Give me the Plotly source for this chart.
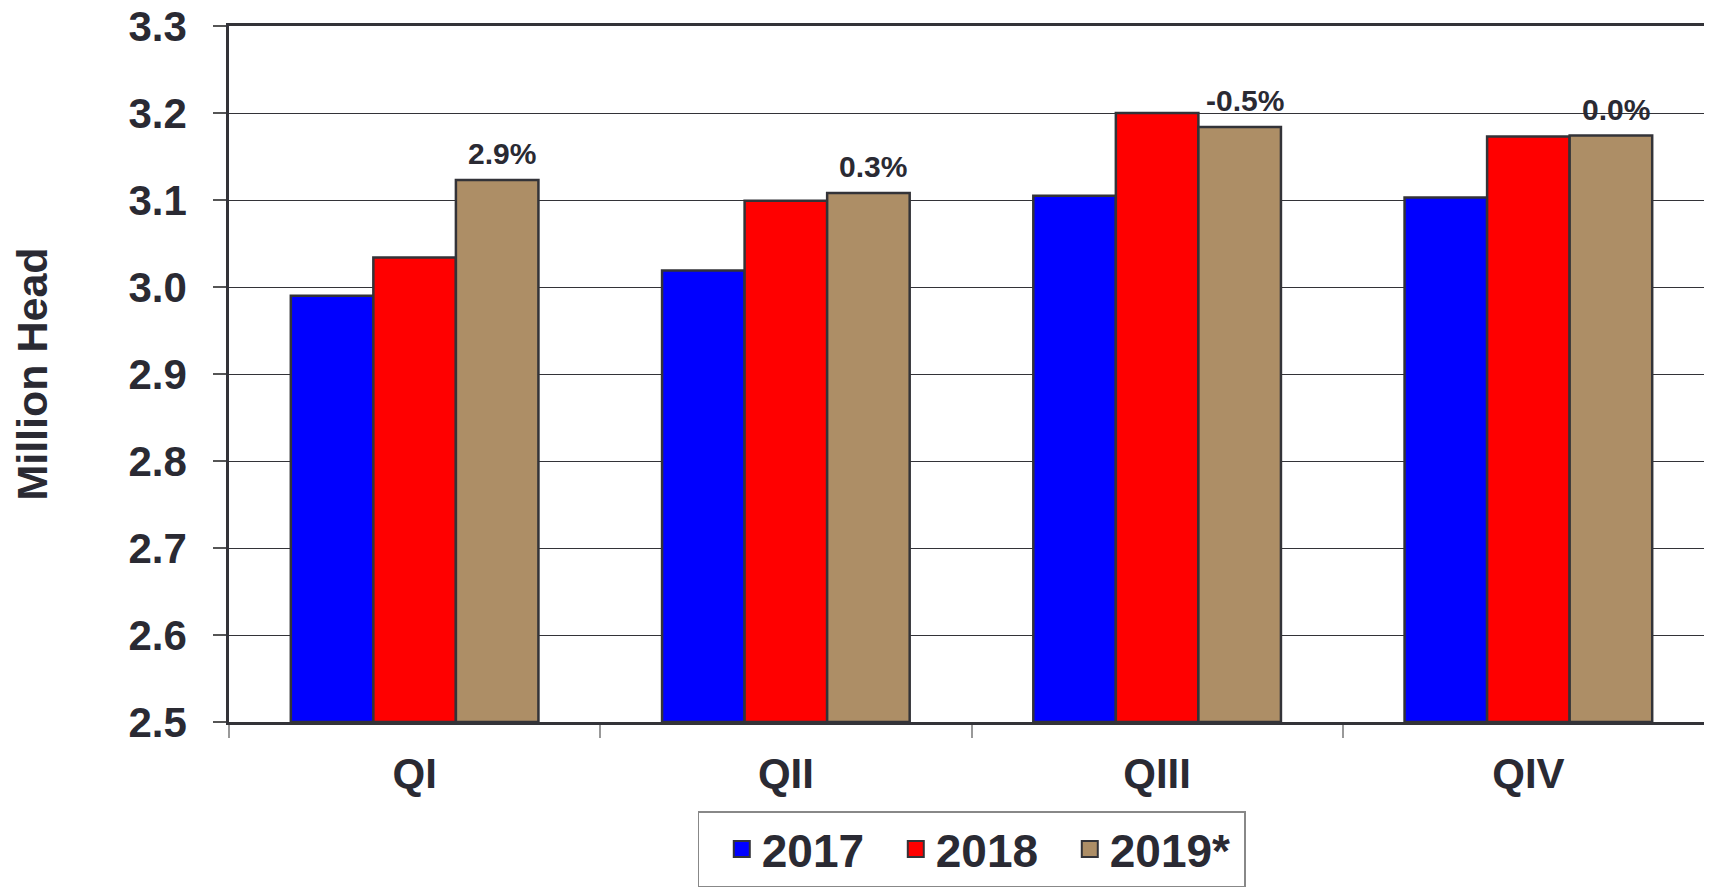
import plotly.graph_objects as go

quarters = ["QI", "QII", "QIII", "QIV"]
years = ["2017", "2018", "2019*"]
v2017 = [2.990, 3.019, 3.105, 3.103]
v2018 = [3.034, 3.099, 3.200, 3.173]
v2019 = [3.123, 3.108, 3.184, 3.174]
pct_labels = ["2.9%", "0.3%", "-0.5%", "0.0%"]
y_ticks = [2.5, 2.6, 2.7, 2.8, 2.9, 3.0, 3.1, 3.2, 3.3]

colors = ["#0000FF", "#FF0000", "#AD8E66"]
outline = "#333338"
text_color = "#2A2A33"
font_family = "Liberation Sans, Arial, sans-serif"

W, H = 1712, 890
ML, MR, MT, MB = 221, 6, 18, 176
BARGAP = 0.333

fig = go.Figure()
series = [v2017, v2018, v2019]
for i, (name, vals) in enumerate(zip(years, series)):
    fig.add_trace(go.Bar(
        x=quarters, y=[v - 2.5 for v in vals], base=2.5, name=name,
        marker=dict(color=colors[i], line=dict(color=outline, width=2.5)),
        showlegend=False))
    # legend entry with a larger square swatch
    fig.add_trace(go.Scatter(
        x=[None], y=[None], mode="markers", name=f"<b>{name}</b>",
        marker=dict(symbol="square", size=16, color=colors[i],
                    line=dict(color=outline, width=2)),
        hoverinfo="skip"))

# percent-change labels above the 2019* bars
plot_w = W - ML - MR
bar_w = plot_w / len(quarters) * (1 - BARGAP) / 3
for q, v, lab in zip(quarters, v2019, pct_labels):
    fig.add_annotation(x=q, y=v, xref="x", yref="y", text=f"<b>{lab}</b>",
                       showarrow=False, xshift=bar_w + 5, yanchor="bottom", yshift=8,
                       font=dict(size=30, color=text_color, family=font_family))

fig.update_layout(
    width=W, height=H,
    margin=dict(l=ML, r=MR, t=MT, b=MB, autoexpand=False),
    paper_bgcolor="white", plot_bgcolor="white",
    barmode="group", bargap=BARGAP, bargroupgap=0,
    font=dict(family=font_family, color=text_color),
    showlegend=True,
    legend=dict(orientation="h", x=0.5, xanchor="center", y=-0.128, yanchor="top",
                font=dict(size=46, color=text_color, family=font_family),
                bordercolor="#888888", borderwidth=1.5, bgcolor="white",
                itemwidth=30, entrywidth=129, itemsizing="trace",
                title=dict(text="\u00a0", side="left",
                           font=dict(size=46, color=text_color, family=font_family))),
)
fig.update_yaxes(
    range=[2.5, 3.3], tickvals=y_ticks, ticktext=[f"<b>{t:.1f}</b>" for t in y_ticks],
    showgrid=True, gridcolor=outline, gridwidth=1.2,
    showline=True, linecolor=outline, linewidth=2.5, mirror=False,
    ticks="outside", ticklen=13, tickcolor="#555555", tickwidth=1.5,
    tickfont=dict(size=42, color=text_color, family=font_family),
    ticklabelstandoff=18, ticklabeloverflow="allow", automargin=False,
    title=dict(text="<b>Million Head</b>", font=dict(size=43, color=text_color), standoff=72),
    zeroline=False,
)
fig.update_xaxes(
    showline=True, linecolor=outline, linewidth=2.5, mirror=True,
    ticks="outside", tickson="boundaries", ticklen=13, tickcolor="#999999", tickwidth=1.5,
    tickfont=dict(size=42, color=text_color, family=font_family),
    tickvals=quarters, ticktext=[f"<b>{q}</b>" for q in quarters],
    ticklabelstandoff=13, ticklabeloverflow="allow", automargin=False,
)

fig.write_html("out.html")
